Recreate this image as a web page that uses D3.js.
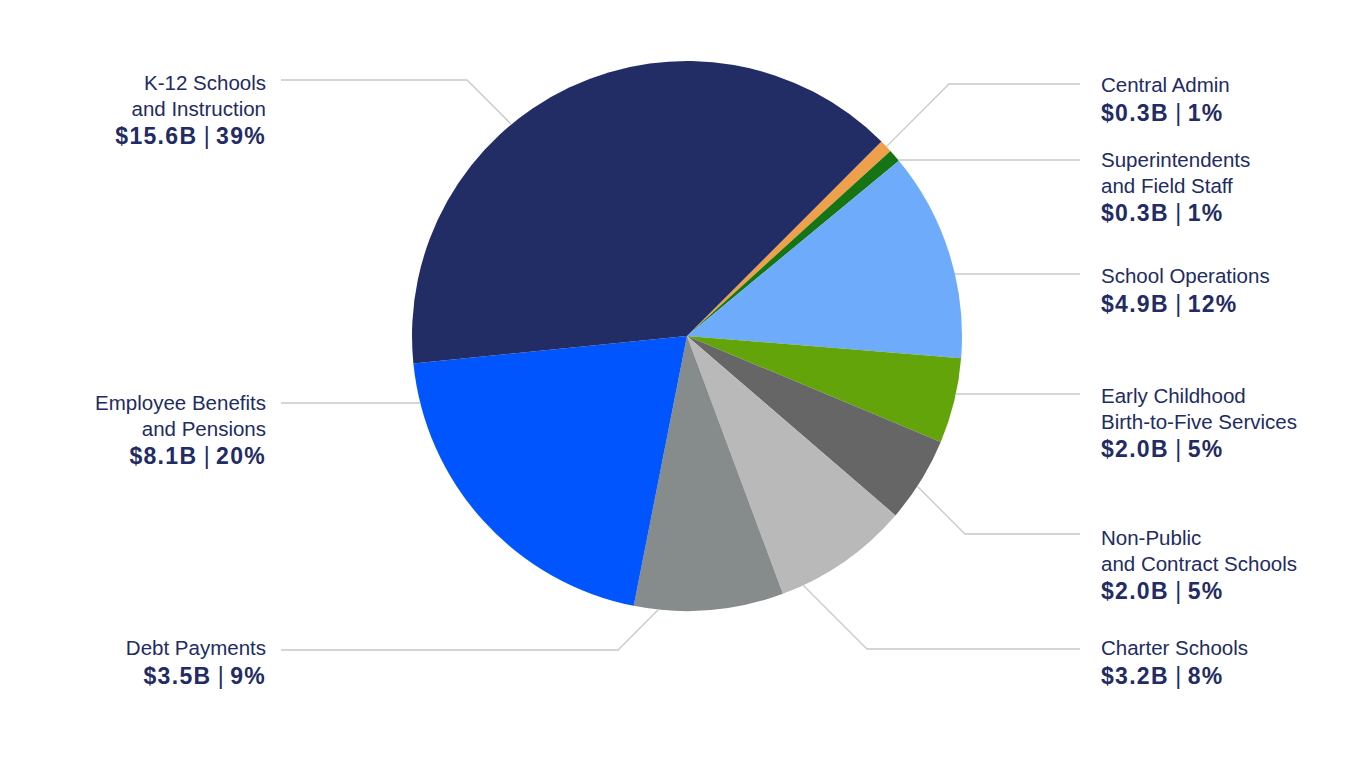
<!DOCTYPE html>
<html>
<head>
<meta charset="utf-8">
<script src="https://cdn.jsdelivr.net/npm/d3@7"></script>
<style>
  html, body { margin: 0; padding: 0; background: #fff; }
  svg text { font-family: "Liberation Sans", Arial, Helvetica, sans-serif; fill: #222b63; }
</style>
</head>
<body>
<svg id="chart" width="1366" height="768"></svg>
<script>
// budget categories, clockwise from the top-right
var categories = [
  "Central Admin",
  "Superintendents and Field Staff",
  "School Operations",
  "Early Childhood Birth-to-Five Services",
  "Non-Public and Contract Schools",
  "Charter Schools",
  "Debt Payments",
  "Employee Benefits and Pensions",
  "K-12 Schools and Instruction"
];
// $ billions
var amounts = [0.3, 0.3, 4.9, 2.0, 2.0, 3.2, 3.5, 8.1, 15.6];
// how each label is broken over lines
var labelLines = [
  ["Central Admin"],
  ["Superintendents", "and Field Staff"],
  ["School Operations"],
  ["Early Childhood", "Birth-to-Five Services"],
  ["Non-Public", "and Contract Schools"],
  ["Charter Schools"],
  ["Debt Payments"],
  ["Employee Benefits", "and Pensions"],
  ["K-12 Schools", "and Instruction"]
];

var colors = ["#f0a04b", "#167414", "#6eabfa", "#63a40a", "#666666", "#b9b9b9", "#868c8c", "#0055ff", "#222d66"];

// label layout: side, leader line y, elbow x (null = straight line), first baseline
var labelLayout = [
  {side: "right", lineY: 84,  elbow: 949,  y: 92},
  {side: "right", lineY: 160, elbow: null, y: 167},
  {side: "right", lineY: 274, elbow: null, y: 283},
  {side: "right", lineY: 394, elbow: null, y: 403},
  {side: "right", lineY: 534, elbow: 965,  y: 545},
  {side: "right", lineY: 649, elbow: 867,  y: 655},
  {side: "left",  lineY: 650, elbow: 618,  y: 655},
  {side: "left",  lineY: 403, elbow: null, y: 410},
  {side: "left",  lineY: 80,  elbow: 467,  y: 90}
];

var cx = 687, cy = 336, r = 275;
var total = d3.sum(amounts);

var data = categories.map(function(c, i) {
  return {name: c, value: amounts[i], lines: labelLines[i], color: colors[i], layout: labelLayout[i]};
});

var svg = d3.select("#chart");

var pie = d3.pie()
  .value(function(d) { return d.value; })
  .sort(null)
  .startAngle(Math.PI / 4)
  .endAngle(Math.PI / 4 + 2 * Math.PI);

var arc = d3.arc().innerRadius(0).outerRadius(r);

var g = svg.append("g").attr("transform", "translate(" + cx + "," + cy + ")");
g.selectAll("path")
  .data(pie(data))
  .enter().append("path")
  .attr("d", arc)
  .attr("fill", function(d) { return d.data.color; });

// where a leader line meets the pie edge
function edgePoint(lay) {
  var dy = lay.lineY - cy;
  if (lay.elbow === null) {
    var dx = Math.sqrt(r * r - dy * dy);
    return [lay.side === "right" ? cx + dx : cx - dx, lay.lineY];
  }
  var ex = lay.elbow - cx;
  var sx = ex > 0 ? -1 : 1, sy = dy > 0 ? -1 : 1;
  // (ex + sx t)^2 + (dy + sy t)^2 = r^2
  var a = 2, b = 2 * (ex * sx + dy * sy), c = ex * ex + dy * dy - r * r;
  var t = (-b - Math.sqrt(b * b - 4 * a * c)) / (2 * a);
  return [lay.elbow + sx * t, lay.lineY + sy * t];
}

var lineGen = d3.line();
var leaders = svg.append("g");
data.forEach(function(d) {
  var lay = d.layout;
  var endX = lay.side === "right" ? 1080 : 281;
  var pts = [[endX, lay.lineY]];
  if (lay.elbow !== null) pts.push([lay.elbow, lay.lineY]);
  pts.push(edgePoint(lay));
  leaders.append("path")
    .attr("d", lineGen(pts))
    .attr("fill", "none")
    .attr("stroke", "#c8c8c8")
    .attr("stroke-width", 1.3);
});

var pct = d3.format(".0%");
var labels = svg.append("g");
data.forEach(function(d) {
  var lay = d.layout;
  var x = lay.side === "right" ? 1101 : 266;
  var anchor = lay.side === "right" ? "start" : "end";
  d.lines.forEach(function(line, i) {
    labels.append("text")
      .attr("x", x)
      .attr("y", lay.y + i * 25.5)
      .attr("text-anchor", anchor)
      .style("font-size", "20.5px")
      .text(line);
  });
  var vt = labels.append("text")
    .attr("x", x)
    .attr("y", lay.y + (d.lines.length - 1) * 25.5 + 28.5)
    .attr("text-anchor", anchor)
    .style("font-size", "23px");
  vt.append("tspan")
    .style("font-weight", "bold")
    .style("letter-spacing", "1.3px")
    .text("$" + d.value.toFixed(1) + "B");
  vt.append("tspan")
    .style("font-weight", "normal")
    .text(" | ");
  vt.append("tspan")
    .style("font-weight", "bold")
    .style("letter-spacing", "1.3px")
    .text(pct(d.value / total));
});
</script>
</body>
</html>
